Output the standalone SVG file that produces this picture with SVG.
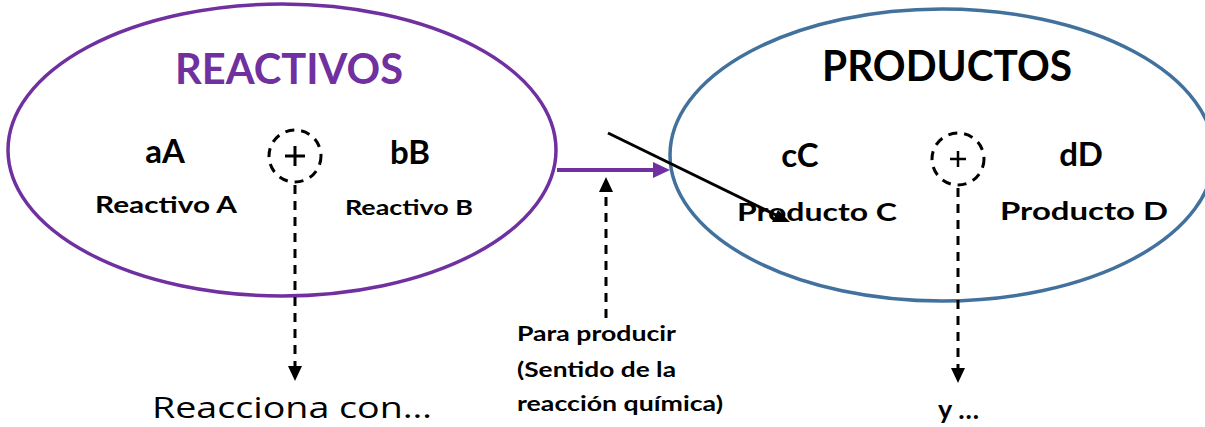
<svg xmlns="http://www.w3.org/2000/svg" width="1205" height="427" viewBox="0 0 1205 427">
<style>
.b{font-family:"Lato","Open Sans","Liberation Sans",sans-serif;font-weight:bold;fill:#000}
.dash{stroke:#000;stroke-width:3;stroke-dasharray:9,7;fill:none}
</style>
<g id="reactivos">
<ellipse cx="282" cy="150" rx="274" ry="146" fill="none" stroke="#7030A0" stroke-width="3.5"/>
<text x="289" y="84" text-anchor="middle" class="b" style="fill:#7030A0" font-size="42" textLength="228" lengthAdjust="spacingAndGlyphs">REACTIVOS</text>
<text x="165" y="163" text-anchor="middle" class="b" font-size="33">aA</text>
<text x="166" y="213" text-anchor="middle" class="b" font-size="22" textLength="142" lengthAdjust="spacingAndGlyphs">Reactivo A</text>
<text x="410" y="164" text-anchor="middle" class="b" font-size="33">bB</text>
<text x="409" y="215" text-anchor="middle" class="b" font-size="20" textLength="128" lengthAdjust="spacingAndGlyphs">Reactivo B</text>
<circle cx="295" cy="156" r="26" class="dash" stroke-width="2.5" stroke-dasharray="8,6"/>
<path d="M285,156 H305 M295,146 V166" stroke="#000" stroke-width="3"/>
</g>
<g id="productos">
<ellipse cx="942" cy="155" rx="272" ry="146" fill="none" stroke="#41719C" stroke-width="3.5"/>
<text x="947" y="81" text-anchor="middle" class="b" font-size="42" textLength="250" lengthAdjust="spacingAndGlyphs">PRODUCTOS</text>
<text x="800" y="167" text-anchor="middle" class="b" font-size="33">cC</text>
<text x="817" y="221" text-anchor="middle" class="b" font-size="24" textLength="160" lengthAdjust="spacingAndGlyphs">Producto C</text>
<text x="1081" y="166" text-anchor="middle" class="b" font-size="33">dD</text>
<text x="1084" y="220" text-anchor="middle" class="b" font-size="24" textLength="168" lengthAdjust="spacingAndGlyphs">Producto D</text>
<circle cx="958" cy="159" r="26" class="dash" stroke-width="2.5" stroke-dasharray="8,6"/>
<path d="M950,159 H966 M958,151 V167" stroke="#000" stroke-width="2.5"/>
</g>
<g id="labels">
<text x="292" y="418" text-anchor="middle" font-family="'Open Sans','DejaVu Sans',sans-serif" font-size="29" fill="#000" textLength="280" lengthAdjust="spacingAndGlyphs">Reacciona con…</text>
<text class="b" font-size="20" x="517" y="341" textLength="159" lengthAdjust="spacingAndGlyphs">Para producir</text>
<text class="b" font-size="20" x="517" y="377" textLength="159" lengthAdjust="spacingAndGlyphs">(Sentido de la</text>
<text class="b" font-size="20" x="517" y="411" textLength="206" lengthAdjust="spacingAndGlyphs">reacción química)</text>
<text class="b" font-size="27" x="938" y="419">y …</text>
</g>
<g id="connectors">
<line x1="295" y1="185" x2="295" y2="372" class="dash"/>
<path d="M288,366 L302,366 L295,381 Z" fill="#000"/>
<line x1="958" y1="188" x2="958" y2="372" class="dash"/>
<path d="M951,368 L965,368 L958,383 Z" fill="#000"/>
<line x1="606" y1="318" x2="606" y2="190" class="dash"/>
<path d="M599,192 L613,192 L606,177 Z" fill="#000"/>
<line x1="557" y1="170" x2="655" y2="170" stroke="#7030A0" stroke-width="4"/>
<path d="M653,162 L670,170 L653,178 Z" fill="#7030A0"/>
<line x1="608" y1="133" x2="780" y2="217" stroke="#000" stroke-width="3"/>
<path d="M772,222 L790,222 L778,210 Z" fill="#000"/>
</g>
</svg>
